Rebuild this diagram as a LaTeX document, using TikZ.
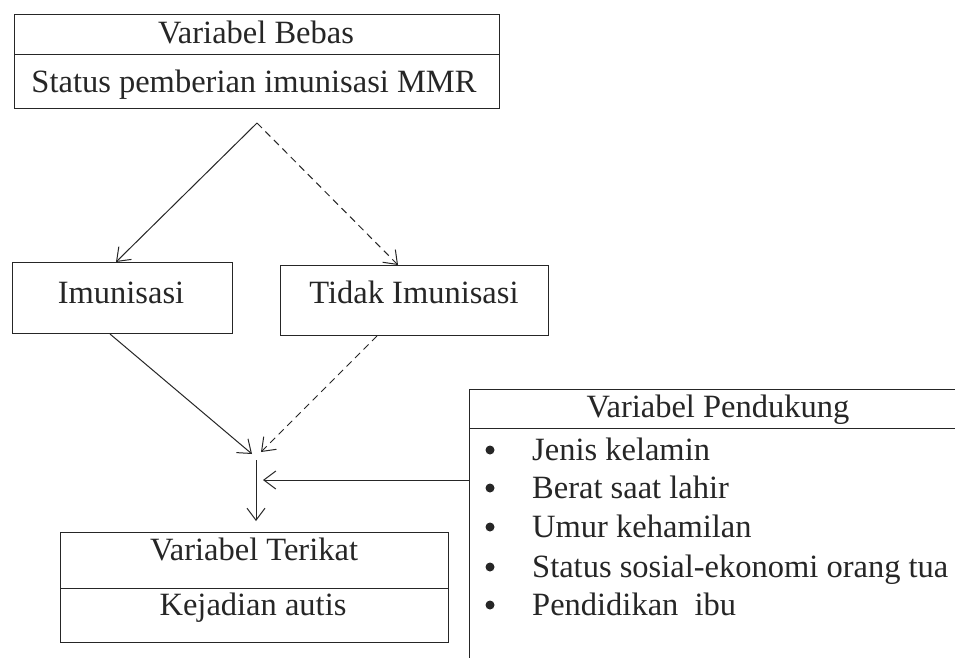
\documentclass[tikz,border=0pt]{standalone}
\usepackage{fontspec}
\setmainfont{Liberation Serif}
\usetikzlibrary{arrows.meta}
\definecolor{ink}{HTML}{262626}
\begin{document}
\begin{tikzpicture}[x=1pt,y=-1pt,
  every node/.style={font=\fontsize{32.5}{39}\selectfont, text=ink},
  box/.style={draw=ink, line width=1pt, inner sep=0pt, anchor=north west},
  lbl/.style={anchor=base, inner sep=0pt},
  item/.style={anchor=base west, inner sep=0pt},
  dot/.style={circle, fill=ink, inner sep=0pt, minimum size=9pt},
  link/.style={draw=ink, line width=1pt, -{Straight Barb[length=12pt,width=18pt,line width=1pt]}},
  dlink/.style={link, dash pattern=on 7pt off 5pt}]
\useasboundingbox (0,0) rectangle (955,657);
\fill[white] (0,0) rectangle (955,657);

% boxes
\node[box, minimum width=485pt, minimum height=40pt] (bebasT) at (14,14) {};
\node[box, minimum width=485pt, minimum height=54pt] (bebasB) at (14,54) {};
\node[box, minimum width=220pt, minimum height=71pt] (imun) at (12,262) {};
\node[box, minimum width=268pt, minimum height=70pt] (tidak) at (280,265) {};
\node[box, minimum width=388pt, minimum height=56pt] (terT) at (60,532) {};
\node[box, minimum width=388pt, minimum height=54pt] (terB) at (60,588) {};
\node[box, draw=none, minimum width=486pt, minimum height=268pt] (pend) at (469,389) {};
\draw[ink, line width=1pt] (pend.north east) -- (pend.north west) -- (pend.south west);
\draw[ink, line width=1pt] ([yshift=-39pt]pend.north west) -- ([yshift=-39pt]pend.north east);

% texts
\node[lbl] (tBebas) at (256,43) {Variabel Bebas};
\node[lbl] (tStatus) at (254,92) {Status pemberian imunisasi MMR};
\node[lbl] (tImun) at (121,303) {Imunisasi};
\node[lbl] (tTidak) at (414,303) {Tidak Imunisasi};
\node[lbl] (tTerikat) at (254,560) {Variabel Terikat};
\node[lbl] (tAutis) at (253,615) {Kejadian autis};
\node[lbl] (tPend) at (718,417) {Variabel Pendukung};

\node[dot] (d1) at (490,450) {};
\node[dot] (d2) at (490,488) {};
\node[dot] (d3) at (490,527) {};
\node[dot] (d4) at (490,567) {};
\node[dot] (d5) at (490,605) {};
\node[item] (i1) at (532,460) {Jenis kelamin};
\node[item] (i2) at (532,498) {Berat saat lahir};
\node[item] (i3) at (532,537) {Umur kehamilan};
\node[item] (i4) at (532,577) {Status sosial-ekonomi orang tua};
\node[item] (i5) at (532,615) {Pendidikan\ \ ibu};

% coordinates
\coordinate (apex) at (257,123);
\coordinate (jL) at (252,454);
\coordinate (jR) at (261,452);
\coordinate (vtop) at (256,460);
\coordinate (vbot) at (256,521);
\coordinate (hend) at (263,480);

% connectors
\draw[link] (apex) -- ([xshift=104pt]imun.north west);
\draw[dlink] (apex) -- ([xshift=118pt]tidak.north west);
\draw[link] ([xshift=98pt]imun.south west) -- (jL);
\draw[dlink] ([xshift=97pt]tidak.south west) -- (jR);
\draw[link] (vtop) -- (vbot);
\draw[link] (pend.west |- hend) -- (hend);
\end{tikzpicture}
\end{document}
